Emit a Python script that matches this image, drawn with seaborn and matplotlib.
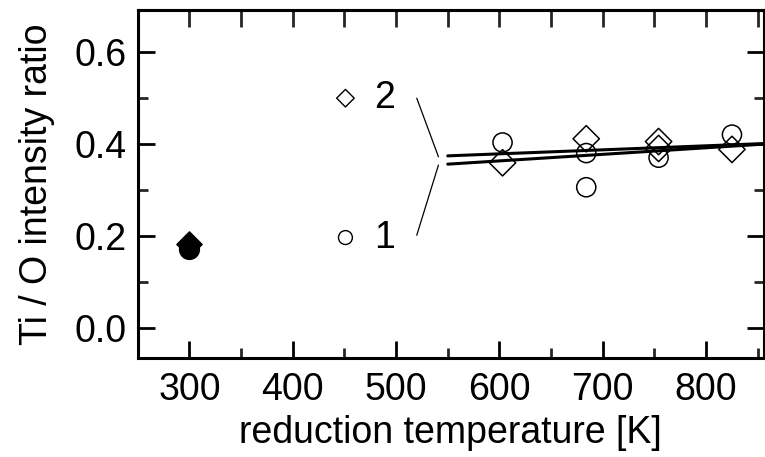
import matplotlib
matplotlib.use("Agg")
import matplotlib.pyplot as plt
import seaborn as sns
import pandas as pd
import numpy as np
from matplotlib.ticker import MultipleLocator

# ---- data ----
ref_temp = [300]
ref_circle = [0.173]
ref_diamond = [0.184]

s1_temp = [603, 684, 684, 754, 825]          # series 1 (circles)
s1_ratio = [0.403, 0.380, 0.306, 0.370, 0.420]
s2_temp = [603, 684, 754, 754, 825]          # series 2 (diamonds)
s2_ratio = [0.359, 0.411, 0.405, 0.390, 0.388]

fit_temp = [550, 860]
fit2_ratio = [0.374, 0.401]
fit1_ratio = [0.356, 0.400]

bracket_temp = [520, 541]
bracket2_ratio = [0.499, 0.372]
bracket1_ratio = [0.202, 0.354]

key_temp = [451]
key2_ratio = [0.499]
key1_ratio = [0.197]
key_labels = ["2", "1"]
key_label_temp = 489

x_label = "reduction temperature [K]"
y_label = "Ti / O intensity ratio"

FS = 27

# ---- style ----
sns.set_theme(style="ticks")
plt.rcParams["font.family"] = ["Liberation Sans", "DejaVu Sans"]
plt.rcParams["text.color"] = "black"
plt.rcParams["axes.labelcolor"] = "black"

fig = plt.figure(figsize=(7.65, 4.57), dpi=100)
ax = fig.add_axes([0.18, 0.2166, 0.8187, 0.7615])

# fit lines
for r in (fit2_ratio, fit1_ratio):
    sns.lineplot(x=fit_temp, y=r, ax=ax, color="black", lw=2.2, zorder=2)
# bracket lines
for r in (bracket2_ratio, bracket1_ratio):
    sns.lineplot(x=bracket_temp, y=r, ax=ax, color="black", lw=0.9, zorder=2)

# data points
sns.scatterplot(x=s1_temp, y=s1_ratio, ax=ax, marker="o", s=190,
                facecolor="none", edgecolor="black", linewidth=1.1, zorder=3)
sns.scatterplot(x=s2_temp, y=s2_ratio, ax=ax, marker="D", s=180,
                facecolor="none", edgecolor="black", linewidth=1.1, zorder=3)
sns.scatterplot(x=ref_temp, y=ref_circle, ax=ax, marker="o", s=200,
                color="black", edgecolor="black", zorder=4)
sns.scatterplot(x=ref_temp, y=ref_diamond, ax=ax, marker="D", s=165,
                color="black", edgecolor="black", zorder=4)

# key markers and labels
sns.scatterplot(x=key_temp, y=key2_ratio, ax=ax, marker="D", s=80,
                facecolor="none", edgecolor="black", linewidth=1.0, zorder=3)
sns.scatterplot(x=key_temp, y=key1_ratio, ax=ax, marker="o", s=100,
                facecolor="none", edgecolor="black", linewidth=1.0, zorder=3)
ax.text(key_label_temp, key2_ratio[0], key_labels[0], fontsize=FS,
        ha="center", va="center")
ax.text(key_label_temp, key1_ratio[0], key_labels[1], fontsize=FS,
        ha="center", va="center")

# axes
ax.set_xlim(250, 856)
ax.set_ylim(-0.064, 0.69)
ax.xaxis.set_minor_locator(MultipleLocator(50))
ax.yaxis.set_minor_locator(MultipleLocator(0.1))
ax.set_yticks([0.0, 0.2, 0.4, 0.6])
ax.set_yticklabels(["0.0", "0.2", "0.4", "0.6"])
ax.set_xticks([300, 400, 500, 600, 700, 800])

for sp in ax.spines.values():
    sp.set_visible(True)
    sp.set_linewidth(2.2)
    sp.set_color("black")

ax.tick_params(which="major", direction="in", length=12.5, width=2.0,
               labelsize=FS, pad=8, colors="black",
               top=False, right=True, bottom=True, left=True)
ax.tick_params(which="minor", direction="in", length=7.5, width=2.0,
               top=False, right=True, bottom=True, left=True)
ax.tick_params(axis="x", which="major", pad=10)

# top ticks all the same length
sec = ax.secondary_xaxis("top")
sec.set_xticks(np.arange(300, 851, 50))
sec.tick_params(direction="in", length=12.5, width=2.0, labeltop=False)
sec.spines["top"].set_linewidth(2.2)

ax.set_xlabel(x_label, fontsize=FS, labelpad=5)
ax.set_ylabel(y_label, fontsize=FS, labelpad=14)

fig.savefig("out.png", dpi=100)
